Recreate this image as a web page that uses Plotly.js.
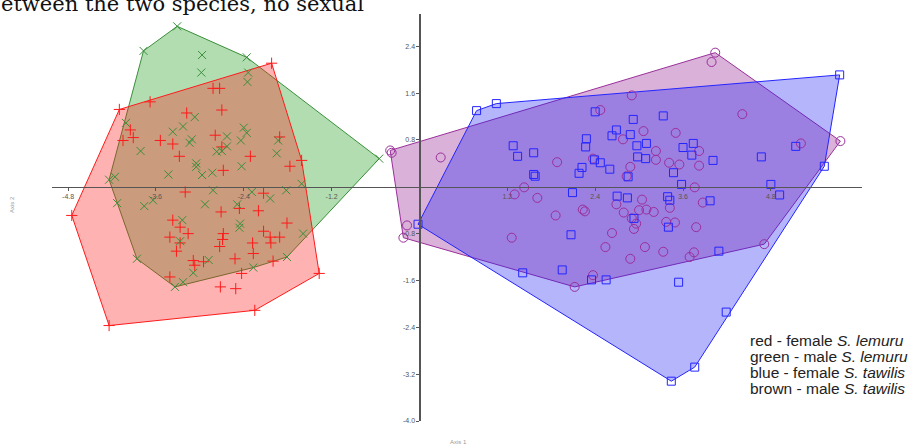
<!DOCTYPE html>
<html>
<head>
<meta charset="utf-8">
<script src="https://cdn.plot.ly/plotly-3.0.1.min.js"></script>
<style>html,body{margin:0;padding:0;background:#fff;}#chart{width:913px;height:446px;}</style>
</head>
<body>
<div id="chart"></div>
<script>
// female S. lemuru (red)
const redX = [-4.10,-3.68,-2.02,-2.82,-2.73,-2.70,-3.18,-3.95,-3.91,-4.05,-3.54,-3.37,-2.79,-2.70,-3.28,-2.31,-2.68,-1.91,-1.77,-1.61,-3.20,-2.13,-2.71,-2.46,-2.20,-3.37,-3.27,-3.16,-3.41,-2.68,-2.69,-2.73,-3.27,-3.32,-2.13,-2.04,-2.03,-1.91,-1.81,-2.28,-2.27,-2.52,-3.09,-3.07,-2.95,-2.43,-2.00,-3.41,-2.72,-2.51,-1.37,-2.25,-4.75,-4.24];
const redY = [1.32,1.45,2.11,1.68,1.68,1.31,1.26,0.97,0.84,0.79,0.79,0.73,0.88,0.68,0.52,0.52,0.28,0.85,0.35,0.45,-0.09,-0.11,-0.43,-0.37,-0.41,-0.57,-0.69,-0.80,-0.86,-0.80,-0.90,-1.02,-0.96,-1.10,-0.76,-0.86,-0.96,-0.86,-0.62,-0.96,-1.14,-1.23,-1.26,-1.34,-1.28,-1.48,-1.27,-1.54,-1.71,-1.74,-1.48,-2.11,-0.49,-2.37];
// male S. lemuru (green)
const greenX = [-3.31,-3.77,-2.97,-2.98,-2.36,-2.34,-2.35,-4.01,-3.81,-3.37,-3.23,-3.07,-3.11,-3.14,-2.63,-2.63,-2.40,-2.36,-2.44,-1.93,-1.95,-2.77,-3.05,-3.05,-2.97,-3.43,-2.83,-2.43,-4.24,-4.16,-4.13,-3.76,-3.64,-2.82,-2.93,-2.49,-2.29,-2.04,-1.82,-1.61,-2.45,-2.46,-3.24,-3.27,-2.88,-3.09,-2.27,-1.81,-1.59,-3.86,-3.34,-3.23,-0.55,-2.70];
const greenY = [2.74,2.32,2.25,1.95,2.21,1.95,1.79,1.09,0.61,0.94,1.03,1.19,0.81,0.75,0.86,0.69,1.01,0.92,0.79,0.79,0.57,0.60,0.40,0.34,0.20,0.21,0.24,0.35,0.12,0.17,-0.28,-0.33,-0.23,-0.06,-0.30,-0.30,-0.09,-0.20,-0.06,0.05,-0.63,-0.70,-0.57,-0.93,-1.25,-1.47,-1.38,-1.20,-0.80,-1.23,-1.71,-1.63,0.48,0.61];
// female S. tawilis (blue)
const blueX = [5.74,5.53,0.78,1.05,1.28,1.34,1.56,1.56,1.58,2.28,2.27,2.40,2.92,3.33,2.69,2.63,2.88,2.97,3.10,2.98,3.09,2.39,2.47,2.60,2.22,2.18,2.85,3.47,3.60,3.74,3.72,4.01,4.67,5.14,4.80,4.92,3.58,2.09,2.70,2.84,3.39,3.42,3.97,2.93,3.40,2.07,-0.02,4.09,1.41,1.95,2.35,2.55,3.54,4.19,3.76,3.44];
const blueY = [1.91,0.35,1.30,1.42,0.70,0.52,0.58,0.21,0.18,0.82,0.68,1.28,1.15,1.21,0.97,0.87,0.89,0.70,0.74,0.51,0.48,0.46,0.41,0.30,0.33,0.23,0.17,0.24,0.67,0.74,0.54,0.45,0.51,0.69,0.04,-0.14,0.04,-0.10,-0.16,-0.19,-0.17,-0.23,-0.24,-0.54,-0.69,-0.82,-0.64,-1.10,-1.47,-1.42,-1.59,-1.59,-1.63,-2.14,-3.08,-3.32];
// male S. tawilis (purple / "brown")
const purpleX = [4.04,3.99,5.75,5.21,4.41,2.90,2.47,3.06,3.50,2.78,3.23,3.82,2.37,1.88,3.23,3.41,3.55,3.82,2.88,2.83,1.43,1.30,1.61,3.76,3.87,2.69,3.04,2.23,2.26,1.86,2.79,3.00,3.10,3.20,3.42,2.90,2.96,2.93,3.37,3.49,3.78,2.63,1.26,2.54,3.08,3.33,2.88,3.69,3.75,4.71,2.37,2.12,-0.17,-0.22,-0.40,-0.38,0.29];
const purpleY = [2.29,2.13,0.78,0.74,1.24,1.56,1.31,0.95,0.92,0.81,0.61,0.61,0.48,0.42,0.46,0.41,0.38,0.36,0.34,0.18,-0.01,-0.13,-0.19,-0.01,-0.27,-0.30,-0.22,-0.39,-0.42,-0.49,-0.44,-0.40,-0.39,-0.43,-0.36,-0.54,-0.63,-0.72,-0.60,-0.61,-0.69,-0.79,-0.87,-1.03,-1.03,-1.11,-1.23,-1.20,-1.12,-0.98,-1.51,-1.71,-0.66,-0.87,0.62,0.58,0.50];

const xTickVals = [-4.8,-3.6,-2.4,-1.2,1.2,2.4,3.6,4.8];
const xTickText = ["-4.8","-3.6","-2.4","-1.2","1.2","2.4","3.6","4.8"];
const yTickVals = [2.4,1.6,0.8,-0.8,-1.6,-2.4,-3.2,-4.0];
const yTickText = ["2.4","1.6","0.8","-0.8","-1.6","-2.4","-3.2","-4.0"];

const legendLines = [
  "red - female <i>S. lemuru</i>",
  "green - male <i>S. lemuru</i>",
  "blue - female <i>S. tawilis</i>",
  "brown - male <i>S. tawilis</i>"
];
const topText = "etween the two species, no sexual";

function hull(xs, ys) {
  const p = xs.map((x, i) => [x, ys[i]]).sort((a, b) => a[0] - b[0] || a[1] - b[1]);
  const cross = (o, a, b) => (a[0]-o[0])*(b[1]-o[1]) - (a[1]-o[1])*(b[0]-o[0]);
  const lower = [], upper = [];
  for (const q of p) { while (lower.length >= 2 && cross(lower[lower.length-2], lower[lower.length-1], q) <= 0) lower.pop(); lower.push(q); }
  for (let i = p.length - 1; i >= 0; i--) { const q = p[i]; while (upper.length >= 2 && cross(upper[upper.length-2], upper[upper.length-1], q) <= 0) upper.pop(); upper.push(q); }
  upper.pop(); lower.pop();
  const h = lower.concat(upper); h.push(h[0]);
  return {x: h.map(a => a[0]), y: h.map(a => a[1])};
}

const groups = [
  {x: greenX, y: greenY, line: '#3a8f3a', fill: 'rgba(40,160,40,0.36)', sym: 'x-thin', size: 8},
  {x: redX, y: redY, line: '#ff1a1a', fill: 'rgba(255,20,20,0.33)', sym: 'cross-thin', size: 8},
  {x: purpleX, y: purpleY, line: '#9a2f9a', fill: 'rgba(150,40,150,0.36)', sym: 'circle-open', size: 9},
  {x: blueX, y: blueY, line: '#2424ff', fill: 'rgba(30,30,245,0.33)', sym: 'square-open', size: 8}
];

const traces = [];
groups.forEach(g => {
  const h = hull(g.x, g.y);
  traces.push({type: 'scatter', mode: 'lines', x: h.x, y: h.y, fill: 'toself', fillcolor: g.fill,
    line: {color: g.line, width: 1}, hoverinfo: 'skip', showlegend: false});
});
[groups[1], groups[0], groups[2], groups[3]].forEach(g => {
  traces.push({type: 'scatter', mode: 'markers', x: g.x, y: g.y, cliponaxis: false,
    marker: {symbol: g.sym, size: g.size, color: g.line, line: {color: g.line, width: 1}},
    hoverinfo: 'skip', showlegend: false});
});

const W = 913, H = 446, L = 52, R = 51, T = 14, B = 25;
const pw = W - L - R, ph = H - T - B;
const xr = [-5.02, 6.045], yr = [-4.0, 2.95];
const px = v => (v - L) / pw;
const py = v => (H - B - v) / ph;

const annotations = [];
legendLines.forEach((t, i) => {
  annotations.push({text: t, xref: 'paper', yref: 'paper', x: px(749), y: py(340 + i * 16),
    xanchor: 'left', yanchor: 'middle', showarrow: false, borderpad: 0,
    font: {family: 'Liberation Sans, Arial, sans-serif', size: 15.5, color: '#222'}});
});
annotations.push({text: topText, xref: 'paper', yref: 'paper', x: px(0), y: py(17),
  xanchor: 'left', yanchor: 'bottom', showarrow: false, borderpad: 0,
  font: {family: 'DejaVu Serif, serif', size: 21, color: '#111'}});
annotations.push({text: 'Axis 2', xref: 'paper', yref: 'paper', x: px(12), y: py(205), textangle: -90,
  xanchor: 'center', yanchor: 'middle', showarrow: false,
  font: {family: 'Liberation Sans, Arial, sans-serif', size: 6, color: '#999'}});
annotations.push({text: 'Axis 1', xref: 'paper', yref: 'paper', x: px(458), y: py(442),
  xanchor: 'center', yanchor: 'middle', showarrow: false,
  font: {family: 'Liberation Sans, Arial, sans-serif', size: 6, color: '#999'}});

const axisCommon = {showgrid: false, zeroline: false, showline: true, linecolor: '#555', linewidth: 1.2,
  ticks: 'outside', ticklen: 3, tickcolor: '#555', tickwidth: 1,
  tickfont: {family: 'Liberation Sans, Arial, sans-serif', size: 7, color: '#555'}};

const layout = {
  width: W, height: H,
  margin: {l: L, r: R, t: T, b: B, pad: 0},
  paper_bgcolor: '#fff', plot_bgcolor: 'rgba(0,0,0,0)',
  showlegend: false,
  xaxis: Object.assign({}, axisCommon, {range: xr, tickmode: 'array', tickvals: xTickVals, ticktext: xTickText,
    anchor: 'free', position: (0 - yr[0]) / (yr[1] - yr[0]), side: 'bottom'}),
  yaxis: Object.assign({}, axisCommon, {range: yr, tickmode: 'array', tickvals: yTickVals, ticktext: yTickText,
    anchor: 'free', position: (0 - xr[0]) / (xr[1] - xr[0]), side: 'left'}),
  annotations: annotations
};

Plotly.newPlot('chart', traces, layout, {staticPlot: true, displayModeBar: false});
</script>
</body>
</html>
